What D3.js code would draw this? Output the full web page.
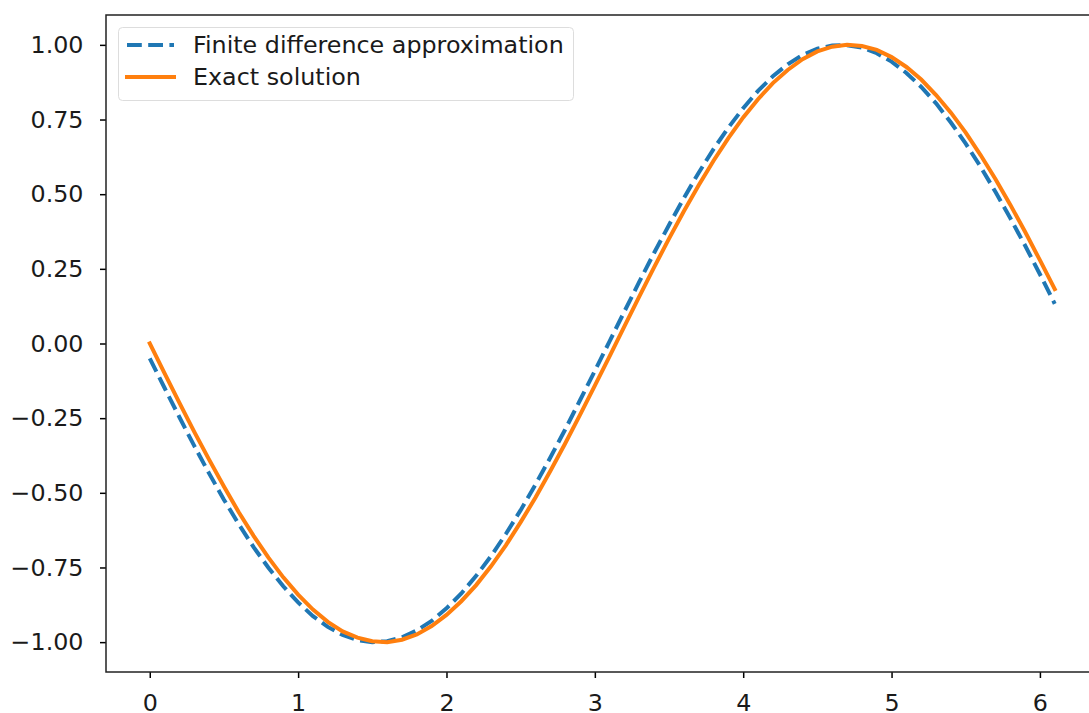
<!DOCTYPE html>
<html>
<head>
<meta charset="utf-8">
<script src="https://cdn.jsdelivr.net/npm/d3@7"></script>
<style>
  html, body { margin: 0; padding: 0; background: #fff; }
  svg { display: block; font-family: "DejaVu Sans", sans-serif; }
</style>
</head>
<body>
<svg id="chart" width="1089" height="713"></svg>
<script>
// x positions (step 0.1)
const xValues = [0.0,0.1,0.2,0.3,0.4,0.5,0.6,0.7,0.8,0.9,1.0,1.1,1.2,1.3,1.4,1.5,1.6,1.7,1.8,1.9,
  2.0,2.1,2.2,2.3,2.4,2.5,2.6,2.7,2.8,2.9,3.0,3.1,3.2,3.3,3.4,3.5,3.6,3.7,3.8,3.9,
  4.0,4.1,4.2,4.3,4.4,4.5,4.6,4.7,4.8,4.9,5.0,5.1,5.2,5.3,5.4,5.5,5.6,5.7,5.8,5.9,6.0,6.1];

// Finite difference approximation (dashed blue)
const finiteDiff = [-0.050,-0.149,-0.247,-0.343,-0.435,-0.523,-0.605,-0.682,-0.751,-0.813,
  -0.867,-0.913,-0.949,-0.976,-0.993,-1.000,-0.997,-0.984,-0.961,-0.929,
  -0.887,-0.837,-0.778,-0.712,-0.638,-0.558,-0.472,-0.382,-0.288,-0.190,
  -0.092,0.008,0.108,0.207,0.304,0.397,0.487,0.572,0.651,0.723,
  0.788,0.846,0.895,0.935,0.966,0.987,0.998,0.999,0.991,0.972,
  0.944,0.906,0.859,0.804,0.740,0.669,0.592,0.508,0.420,0.328,0.232,0.133];

// Exact solution (solid orange)
const exactSol = [0.000,-0.100,-0.199,-0.296,-0.389,-0.479,-0.565,-0.644,-0.717,-0.783,
  -0.841,-0.891,-0.932,-0.964,-0.985,-0.997,-1.000,-0.992,-0.974,-0.946,
  -0.909,-0.863,-0.809,-0.746,-0.676,-0.598,-0.516,-0.427,-0.335,-0.239,
  -0.141,-0.042,0.058,0.158,0.256,0.351,0.443,0.530,0.612,0.688,
  0.757,0.818,0.872,0.916,0.952,0.978,0.994,1.000,0.996,0.983,
  0.959,0.926,0.884,0.832,0.773,0.706,0.631,0.551,0.465,0.374,0.279,0.182];

const xTicks = [0,1,2,3,4,5,6];
const yTicks = [-1.00,-0.75,-0.50,-0.25,0.00,0.25,0.50,0.75,1.00];
const seriesNames = ["Finite difference approximation","Exact solution"];

const svg = d3.select("#chart");
const plotLeft = 106, plotRight = 1100, plotTop = 15, plotBottom = 672;

const x = d3.scaleLinear().domain([-0.295, 6.405]).range([plotLeft, plotRight]);
const y = d3.scaleLinear().domain([-1.1, 1.1]).range([plotBottom, plotTop]);

const fontSize = 23.8;
const lw = 4;
const dash = "14.8,6.4";

// axes
const xAxis = d3.axisBottom(x).tickValues(xTicks).tickFormat(d3.format("d")).tickSize(6).tickPadding(16.5);
const yAxis = d3.axisLeft(y).tickValues(yTicks).tickFormat(d3.format(".2f")).tickSize(6).tickPadding(16.5);

const gx = svg.append("g").attr("transform", `translate(0,${plotBottom})`).call(xAxis);
const gy = svg.append("g").attr("transform", `translate(${plotLeft},0)`).call(yAxis);
[gx, gy].forEach(g => {
  g.select(".domain").remove();
  g.selectAll(".tick line").attr("stroke", "#000").attr("stroke-width", 1.5);
  g.selectAll(".tick text").attr("fill", "#1a1a1a").style("font-size", fontSize + "px").style("font-family", "DejaVu Sans, sans-serif");
});

// spines
svg.append("rect").attr("x", plotLeft).attr("y", plotTop).attr("width", plotRight - plotLeft).attr("height", plotBottom - plotTop)
  .attr("fill", "none").attr("stroke", "#222").attr("stroke-width", 1.5);

const line = d3.line().x((d, i) => x(xValues[i])).y(d => y(d));

svg.append("path").datum(finiteDiff).attr("d", line)
  .attr("fill", "none").attr("stroke", "#1f77b4").attr("stroke-width", lw)
  .attr("stroke-dasharray", dash);

svg.append("path").datum(exactSol).attr("d", line)
  .attr("fill", "none").attr("stroke", "#ff7f0e").attr("stroke-width", lw)
  .attr("stroke-linecap", "square");

// legend
const lg = svg.append("g");
lg.append("rect").attr("x", 118.5).attr("y", 27.5).attr("width", 455).attr("height", 73)
  .attr("rx", 4).attr("fill", "#fff").attr("fill-opacity", 0.8).attr("stroke", "#dddddd").attr("stroke-width", 1);
const styles = [{c:"#1f77b4", dash: dash, cap: "butt"}, {c:"#ff7f0e", dash: null, cap: "square"}];
seriesNames.forEach((name, i) => {
  const yy = 45 + i * 32;
  lg.append("line").attr("x1", 127).attr("x2", 174).attr("y1", yy).attr("y2", yy)
    .attr("stroke", styles[i].c).attr("stroke-width", lw)
    .attr("stroke-linecap", styles[i].cap)
    .attr("stroke-dasharray", styles[i].dash);
  lg.append("text").attr("x", 193).attr("y", yy).attr("dy", "0.35em")
    .style("font-size", fontSize + "px").attr("fill", "#1a1a1a").text(name);
});
</script>
</body>
</html>
